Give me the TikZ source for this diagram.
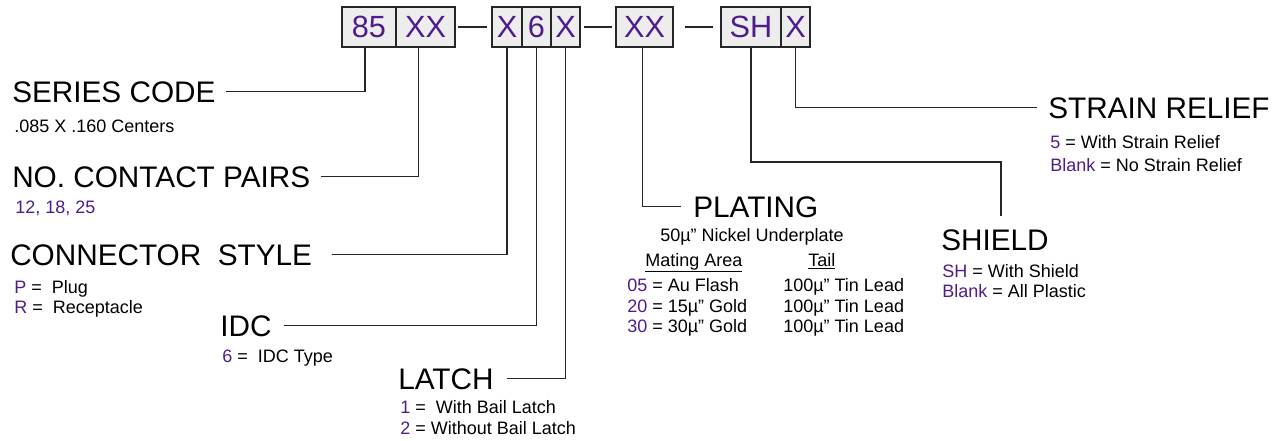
\documentclass[tikz,border=0pt]{standalone}
\usepackage{fontspec}
\setmainfont{Liberation Sans}
\usetikzlibrary{positioning}
\definecolor{codepurple}{RGB}{78,28,140}
\newcommand{\pur}[1]{\textcolor{codepurple}{#1}}
\tikzset{
 seg/.style={draw=black!85,fill=black!7,line width=0.9pt,minimum height=30pt,inner sep=0pt,outer sep=0pt,text=codepurple,font=\fontsize{23}{26}\selectfont},
 head/.style={anchor=base west,inner sep=0pt,font=\fontsize{22.3}{25}\selectfont},
 note/.style={anchor=base west,inner sep=0pt,font=\fontsize{13.5}{16}\selectfont},
 lead/.style={line width=0.9pt,black!85},
}
\begin{document}
\begin{tikzpicture}[x=0.75pt,y=-0.75pt]
 \useasboundingbox (0,0) rectangle (1283,440);
 \node[seg,minimum width=40.5pt] (b85) at (369,27) {85};
 \node[seg,minimum width=44.25pt,right=0pt of b85] (bXXa) {XX};
 \node[seg,minimum width=22.5pt] (bX1) at (507,27) {X};
 \node[seg,minimum width=21.75pt,right=0pt of bX1] (b6) {6};
 \node[seg,minimum width=21.75pt,right=0pt of b6] (bX2) {X};
 \node[seg,minimum width=42.75pt] (bPl) at (644.5,27) {XX};
 \node[seg,minimum width=45pt] (bSH) at (751,27) {SH};
 \node[seg,minimum width=21.75pt,right=0pt of bSH] (bSR) {X};
 \draw[lead,shorten <=2.25pt,shorten >=3.75pt] (bXXa.east) -- (bX1.west);
 \draw[lead,shorten <=3pt,shorten >=3pt] (bX2.east) -- (bPl.west);
 \draw[lead,shorten <=9pt,shorten >=6pt] (bPl.east) -- (bSH.west);

 \node[head] (series) at (12,102) {SERIES CODE};
 \node[note] (series1) at (14,132) {.085 X .160 Centers};
 \node[head] (pairs) at (12,187) {NO. CONTACT PAIRS};
 \node[note] (pairs1) at (15,213) {\pur{12, 18, 25}};
 \node[head] (style) at (10,265) {CONNECTOR~~STYLE};
 \node[note] (style1) at (14,293) {\pur{P} =~~Plug};
 \node[note] (style2) at (14,313) {\pur{R} =~~Receptacle};
 \node[head] (idc) at (220,336) {IDC};
 \node[note] (idc1) at (222,362) {\pur{6} =~~IDC Type};
 \node[head] (latch) at (398,389) {LATCH};
 \node[note] (latch1) at (400,413) {\pur{1} =~~With Bail Latch};
 \node[note] (latch2) at (400,434) {\pur{2} = Without Bail Latch};
 \node[head] (plating) at (693,217) {PLATING};
 \node[note,anchor=base] (plating1) at (752,241) {50µ” Nickel Underplate};
 \node[note] (mating) at (645,266) {\underline{Mating Area}};
 \node[note] (tail) at (808,266) {\underline{Tail}};
 \node[note] (pl1) at (627,291) {\pur{05} = Au Flash};
 \node[note] (pl2) at (627,312) {\pur{20} = 15µ” Gold};
 \node[note] (pl3) at (627,332) {\pur{30} = 30µ” Gold};
 \node[note] (tl1) at (783,291) {100µ” Tin Lead};
 \node[note] (tl2) at (783,312) {100µ” Tin Lead};
 \node[note] (tl3) at (783,332) {100µ” Tin Lead};
 \node[head] (shield) at (941,250) {SHIELD};
 \node[note] (shield1) at (942,277) {\pur{SH} = With Shield};
 \node[note] (shield2) at (942,297) {\pur{Blank} = All Plastic};
 \node[head] (strain) at (1048,118) {STRAIN RELIEF};
 \node[note] (strain1) at (1050,148) {\pur{5} = With Strain Relief};
 \node[note] (strain2) at (1050,171) {\pur{Blank} = No Strain Relief};

 \coordinate (shbend) at (1001,162);
 \draw[lead] ([xshift=-3pt]b85.south) |- ([xshift=8pt]series.east);
 \draw[lead] ([xshift=-5.25pt]bXXa.south) |- ([xshift=8pt]pairs.east);
 \draw[lead] (bX1.south) |- ([xshift=15pt]style.east);
 \draw[lead] (b6.south) |- ([xshift=9pt]idc.east);
 \draw[lead] (bX2.south) |- ([xshift=10pt]latch.east);
 \draw[lead] ([xshift=-1.5pt]bPl.south) |- ([xshift=-9pt]plating.west);
 \draw[lead] (bSH.south) |- (shbend) -- ([yshift=9.75pt]shield.north -| shbend);
 \draw[lead] (bSR.south) |- ([xshift=-8pt]strain.west);
\end{tikzpicture}
\end{document}
